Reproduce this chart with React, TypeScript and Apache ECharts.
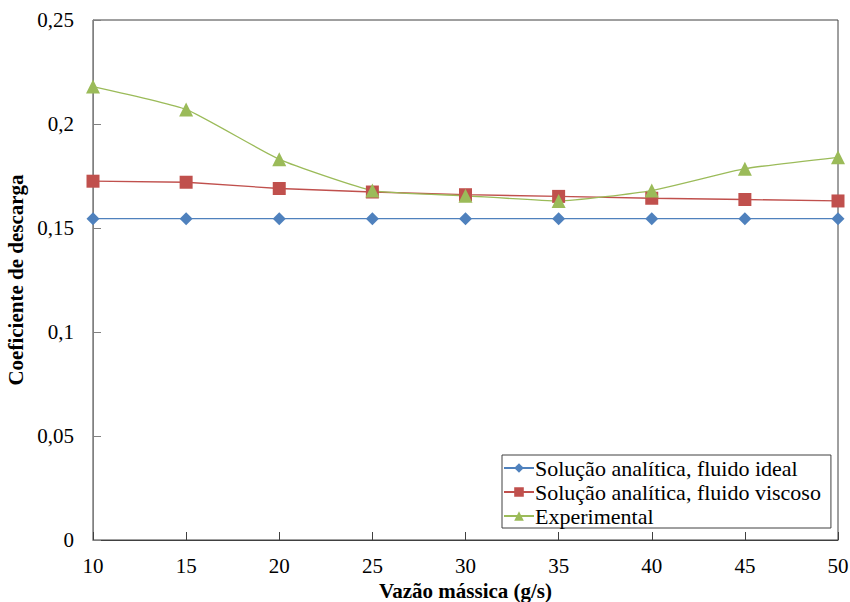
import React, { useEffect, useRef } from "react";
import * as echarts from "echarts";

const xValues = [10, 15, 20, 25, 30, 35, 40, 45, 50];
const idealValues = [0.1545, 0.1545, 0.1545, 0.1545, 0.1545, 0.1545, 0.1545, 0.1545, 0.1545];
const viscousValues = [0.1725, 0.172, 0.169, 0.1673, 0.166, 0.1652, 0.1643, 0.1637, 0.163];
const experimentalValues = [0.218, 0.207, 0.183, 0.168, 0.1655, 0.163, 0.168, 0.1785, 0.184];
const seriesNames = [
  "Solução analítica, fluido ideal",
  "Solução analítica, fluido viscoso",
  "Experimental",
];

const font = "Liberation Serif";

const toPairs = (vals: number[]) => xValues.map((x, i) => [x, vals[i]]);

export default function App() {
  const ref = useRef<HTMLDivElement>(null);
  useEffect(() => {
    if (!ref.current) return;
    const chart = echarts.init(ref.current, undefined, { renderer: "svg" });
    chart.setOption({
      animation: false,
      backgroundColor: "#ffffff",
      textStyle: { fontFamily: font },
      grid: {
        left: 93,
        right: 12,
        top: 20,
        bottom: 62,
        outerBoundsMode: "none",
        containLabel: false,
        show: true,
        borderColor: "#404040",
        borderWidth: 1,
      },
      xAxis: {
        type: "value",
        min: 10,
        max: 50,
        interval: 5,
        name: "Vazão mássica (g/s)",
        nameLocation: "middle",
        nameGap: 37,
        nameTextStyle: { fontFamily: font, fontSize: 21, fontWeight: "bold", color: "#000" },
        axisLine: { show: true, lineStyle: { color: "#404040", width: 1 } },
        axisTick: { show: true, inside: true, length: 8, lineStyle: { color: "#404040" } },
        axisLabel: { fontFamily: font, fontSize: 21, color: "#000", margin: 15 },
        splitLine: { show: false },
      },
      yAxis: {
        type: "value",
        min: 0,
        max: 0.25,
        interval: 0.05,
        name: "Coeficiente de descarga",
        nameLocation: "middle",
        nameGap: 59,
        nameRotate: 90,
        nameTextStyle: { fontFamily: font, fontSize: 21, fontWeight: "bold", color: "#000" },
        axisLine: { show: true, lineStyle: { color: "#808080", width: 1 } },
        axisTick: { show: true, inside: true, length: 8, lineStyle: { color: "#808080" } },
        axisLabel: {
          fontFamily: font,
          fontSize: 21,
          color: "#000",
          margin: 19,
          formatter: (v: number) => String(Math.round(v * 100) / 100).replace(".", ","),
        },
        splitLine: { show: false },
      },
      legend: {
        left: 502,
        top: 455,
        orient: "vertical",
        itemGap: 2,
        itemWidth: 30,
        itemHeight: 12,
        padding: [2, 10, 1, 1],
        borderColor: "#404040",
        borderWidth: 1,
        backgroundColor: "#fff",
        textStyle: { fontFamily: font, fontSize: 22, color: "#000", padding: [0, 0, 0, -4] },
        data: seriesNames,
      },
      series: [
        {
          name: seriesNames[0],
          type: "line",
          data: toPairs(idealValues),
          symbol: "diamond",
          symbolSize: 13,
          itemStyle: { color: "#4F81BD" },
          lineStyle: { color: "#4F81BD", width: 1.3 },
        },
        {
          name: seriesNames[1],
          type: "line",
          data: toPairs(viscousValues),
          symbol: "rect",
          symbolSize: 13,
          itemStyle: { color: "#C0504D" },
          lineStyle: { color: "#C0504D", width: 1.3 },
        },
        {
          name: seriesNames[2],
          type: "line",
          data: toPairs(experimentalValues),
          symbol: "triangle",
          symbolSize: 14,
          smooth: 0.15,
          itemStyle: { color: "#9BBB59" },
          lineStyle: { color: "#9BBB59", width: 1.3 },
        },
      ],
    });
    return () => chart.dispose();
  }, []);
  return (
    <div
      ref={ref}
      style={{ position: "fixed", left: 0, top: 0, width: 850, height: 602 }}
    />
  );
}
